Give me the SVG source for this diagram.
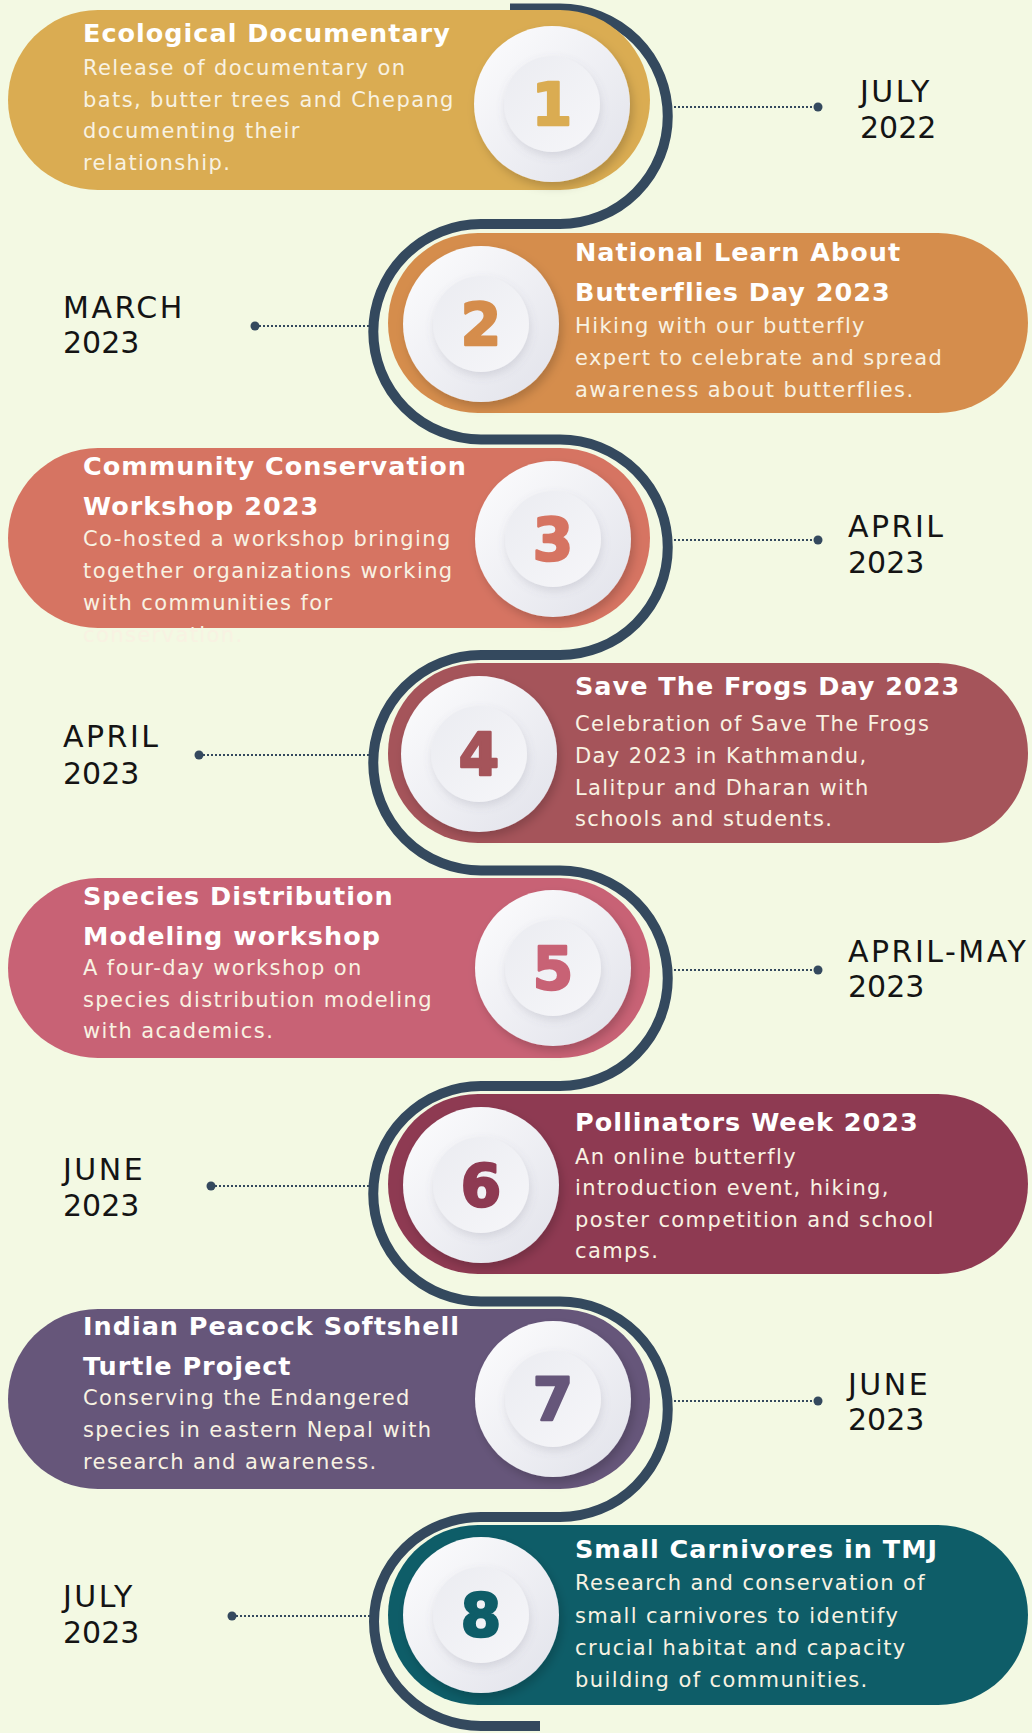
<svg xmlns="http://www.w3.org/2000/svg" width="1032" height="1733" viewBox="0 0 1032 1733">
<defs>
<style>
.bg{fill:#F3F9E3}
.t{font-family:"DejaVu Sans",sans-serif;font-weight:bold;font-size:25.5px;letter-spacing:1px;fill:#FFFFFF}
.b{font-family:"DejaVu Sans",sans-serif;font-size:21px;letter-spacing:1.4px;fill:#F8F2E2}
.d{font-family:"DejaVu Sans",sans-serif;font-size:30px;letter-spacing:2.5px;fill:#141414}
.y{font-family:"DejaVu Sans",sans-serif;font-size:30px;letter-spacing:0px;fill:#141414}
.n{font-family:"DejaVu Sans",sans-serif;font-weight:bold;font-size:58px;text-anchor:middle;stroke-width:2.5px;stroke-linejoin:round}
.path{fill:none;stroke:#34495E;stroke-width:10}
.dot-line{stroke:#34495E;stroke-width:2;stroke-dasharray:2 2}
.dot{fill:#34495E}
.outer{fill:url(#gOuter);filter:url(#sh)}
.inner{fill:url(#gInner);filter:url(#sh2)}
</style>
<linearGradient id="gOuter" x1="0" y1="0" x2="1" y2="1">
<stop offset="0" stop-color="#FDFDFE"/>
<stop offset="1" stop-color="#E1E2EA"/>
</linearGradient>
<linearGradient id="gInner" x1="0" y1="0" x2="1" y2="1">
<stop offset="0" stop-color="#EBECF1"/>
<stop offset="1" stop-color="#F6F6F9"/>
</linearGradient>
<filter id="sh" x="-30%" y="-30%" width="160%" height="160%">
<feDropShadow dx="3" dy="5" stdDeviation="5" flood-color="#000" flood-opacity="0.18"/>
</filter>
<filter id="sh2" x="-30%" y="-30%" width="160%" height="160%">
<feDropShadow dx="1" dy="4" stdDeviation="4" flood-color="#6A6C80" flood-opacity="0.18"/>
</filter>
</defs>
<rect class="bg" x="0" y="0" width="1032" height="1733"/>

<g id="connectors">
<path class="path" d="M510 8.5 H560 A107.75 107.75 0 0 1 560 224 H481 A107.75 107.75 0 0 0 481 439.5 H560 A107.75 107.75 0 0 1 560 655 H481 A107.75 107.75 0 0 0 481 870.5 H560 A107.75 107.75 0 0 1 560 1086 H481 A107.75 107.75 0 0 0 481 1301.5 H560 A107.75 107.75 0 0 1 560 1517 H481 A107 104.5 0 0 0 481 1726 H540"/>
<line class="dot-line" x1="670" y1="107" x2="818" y2="107"/><circle class="dot" cx="818" cy="107" r="4.5"/>
<line class="dot-line" x1="255" y1="326" x2="372" y2="326"/><circle class="dot" cx="255" cy="326" r="4.5"/>
<line class="dot-line" x1="670" y1="540" x2="818" y2="540"/><circle class="dot" cx="818" cy="540" r="4.5"/>
<line class="dot-line" x1="199" y1="755" x2="372" y2="755"/><circle class="dot" cx="199" cy="755" r="4.5"/>
<line class="dot-line" x1="670" y1="970" x2="818" y2="970"/><circle class="dot" cx="818" cy="970" r="4.5"/>
<line class="dot-line" x1="211" y1="1186" x2="372" y2="1186"/><circle class="dot" cx="211" cy="1186" r="4.5"/>
<line class="dot-line" x1="670" y1="1401" x2="818" y2="1401"/><circle class="dot" cx="818" cy="1401" r="4.5"/>
<line class="dot-line" x1="232" y1="1616" x2="372" y2="1616"/><circle class="dot" cx="232" cy="1616" r="4.5"/>
</g>

<g id="node1">
<rect x="8" y="10" width="642" height="180" rx="90" fill="#DAAC52"/>
<text class="t" x="83" y="42">Ecological Documentary</text>
<text class="b" x="83" y="75">Release of documentary on</text>
<text class="b" x="83" y="107">bats, butter trees and Chepang</text>
<text class="b" x="83" y="138">documenting their</text>
<text class="b" x="83" y="170">relationship.</text>
<circle class="outer" cx="552" cy="104" r="78"/>
<circle class="inner" cx="552" cy="104" r="48"/>
<text class="n" x="552" y="125" fill="#DAAC52" stroke="#DAAC52">1</text>
<text class="d" x="860" y="102">JULY</text>
<text class="y" x="860" y="138">2022</text>
</g>

<g id="node2">
<rect x="388" y="233" width="640" height="180" rx="90" fill="#D58D4C"/>
<text class="t" x="575" y="261">National Learn About</text>
<text class="t" x="575" y="301">Butterflies Day 2023</text>
<text class="b" x="575" y="333">Hiking with our butterfly</text>
<text class="b" x="575" y="365">expert to celebrate and spread</text>
<text class="b" x="575" y="397">awareness about butterflies.</text>
<circle class="outer" cx="481" cy="324" r="78"/>
<circle class="inner" cx="481" cy="324" r="48"/>
<text class="n" x="481" y="345" fill="#D58D4C" stroke="#D58D4C">2</text>
<text class="d" x="63" y="318">MARCH</text>
<text class="y" x="63" y="353">2023</text>
</g>

<g id="node3">
<rect x="8" y="448" width="642" height="180" rx="90" fill="#D67462"/>
<text class="t" x="83" y="475">Community Conservation</text>
<text class="t" x="83" y="515">Workshop 2023</text>
<text class="b" x="83" y="546">Co-hosted a workshop bringing</text>
<text class="b" x="83" y="578">together organizations working</text>
<text class="b" x="83" y="610">with communities for</text>
<text class="b" x="83" y="642">conservation.</text>
<circle class="outer" cx="553" cy="539" r="78"/>
<circle class="inner" cx="553" cy="539" r="48"/>
<text class="n" x="553" y="560" fill="#D67462" stroke="#D67462">3</text>
<text class="d" x="848" y="537">APRIL</text>
<text class="y" x="848" y="573">2023</text>
</g>

<g id="node4">
<rect x="388" y="663" width="640" height="180" rx="90" fill="#A5545A"/>
<text class="t" x="575" y="695">Save The Frogs Day 2023</text>
<text class="b" x="575" y="731">Celebration of Save The Frogs</text>
<text class="b" x="575" y="763">Day 2023 in Kathmandu,</text>
<text class="b" x="575" y="795">Lalitpur and Dharan with</text>
<text class="b" x="575" y="826">schools and students.</text>
<circle class="outer" cx="479" cy="754" r="78"/>
<circle class="inner" cx="479" cy="754" r="48"/>
<text class="n" x="479" y="775" fill="#A5545A" stroke="#A5545A">4</text>
<text class="d" x="63" y="747">APRIL</text>
<text class="y" x="63" y="784">2023</text>
</g>

<g id="node5">
<rect x="8" y="878" width="642" height="180" rx="90" fill="#C86275"/>
<text class="t" x="83" y="905">Species Distribution</text>
<text class="t" x="83" y="945">Modeling workshop</text>
<text class="b" x="83" y="975">A four-day workshop on</text>
<text class="b" x="83" y="1007">species distribution modeling</text>
<text class="b" x="83" y="1038">with academics.</text>
<circle class="outer" cx="553" cy="968" r="78"/>
<circle class="inner" cx="553" cy="968" r="48"/>
<text class="n" x="553" y="989" fill="#C86275" stroke="#C86275">5</text>
<text class="d" x="848" y="962">APRIL-MAY</text>
<text class="y" x="848" y="997">2023</text>
</g>

<g id="node6">
<rect x="388" y="1094" width="640" height="180" rx="90" fill="#8E3A52"/>
<text class="t" x="575" y="1131">Pollinators Week 2023</text>
<text class="b" x="575" y="1164">An online butterfly</text>
<text class="b" x="575" y="1195">introduction event, hiking,</text>
<text class="b" x="575" y="1227">poster competition and school</text>
<text class="b" x="575" y="1258">camps.</text>
<circle class="outer" cx="481" cy="1185" r="78"/>
<circle class="inner" cx="481" cy="1185" r="48"/>
<text class="n" x="481" y="1206" fill="#8E3A52" stroke="#8E3A52">6</text>
<text class="d" x="63" y="1180">JUNE</text>
<text class="y" x="63" y="1216">2023</text>
</g>

<g id="node7">
<rect x="8" y="1309" width="642" height="180" rx="90" fill="#66567A"/>
<text class="t" x="83" y="1335">Indian Peacock Softshell</text>
<text class="t" x="83" y="1375">Turtle Project</text>
<text class="b" x="83" y="1405">Conserving the Endangered</text>
<text class="b" x="83" y="1437">species in eastern Nepal with</text>
<text class="b" x="83" y="1469">research and awareness.</text>
<circle class="outer" cx="553" cy="1399" r="78"/>
<circle class="inner" cx="553" cy="1399" r="48"/>
<text class="n" x="553" y="1420" fill="#66567A" stroke="#66567A">7</text>
<text class="d" x="848" y="1395">JUNE</text>
<text class="y" x="848" y="1430">2023</text>
</g>

<g id="node8">
<rect x="388" y="1525" width="640" height="180" rx="90" fill="#0E5D68"/>
<text class="t" x="575" y="1558">Small Carnivores in TMJ</text>
<text class="b" x="575" y="1590">Research and conservation of</text>
<text class="b" x="575" y="1623">small carnivores to identify</text>
<text class="b" x="575" y="1655">crucial habitat and capacity</text>
<text class="b" x="575" y="1687">building of communities.</text>
<circle class="outer" cx="481" cy="1615" r="78"/>
<circle class="inner" cx="481" cy="1615" r="48"/>
<text class="n" x="481" y="1636" fill="#0E5D68" stroke="#0E5D68">8</text>
<text class="d" x="63" y="1607">JULY</text>
<text class="y" x="63" y="1643">2023</text>
</g>
</svg>
